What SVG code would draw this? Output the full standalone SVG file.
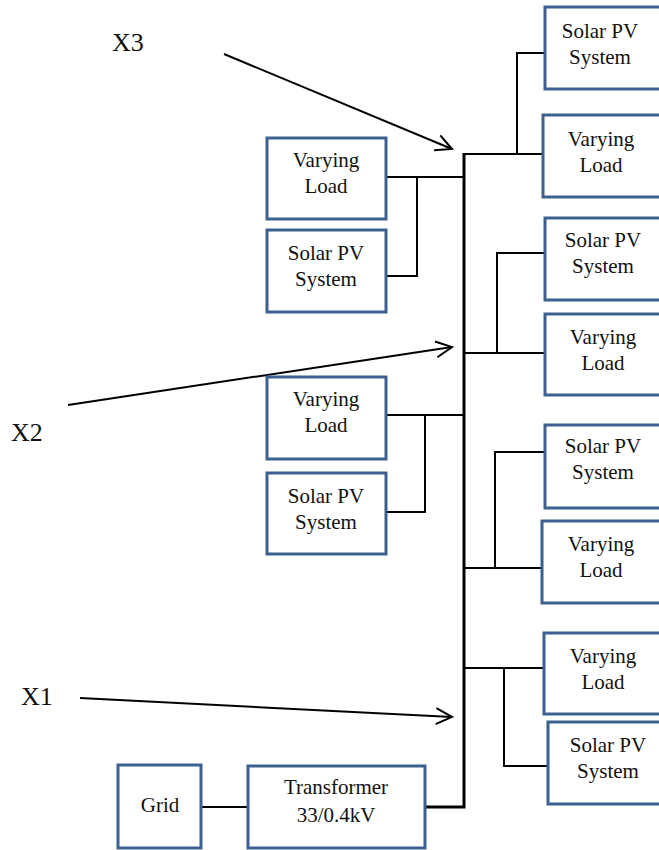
<svg xmlns="http://www.w3.org/2000/svg" width="659" height="850" viewBox="0 0 659 850">
<style>
.box{fill:#fff;stroke:#3C6090;stroke-width:3}
text{font-family:'Times New Roman','Liberation Serif','DejaVu Serif',serif;fill:#111}
.lbl{font-size:21px;text-anchor:middle}
.xl{font-size:26px}
.w{stroke:#000;stroke-width:2;fill:none}
.bus{stroke:#000;stroke-width:3;fill:none}
.arr{stroke:#000;stroke-width:2;fill:none;marker-end:url(#ah)}
</style>
<defs>
<marker id="ah" markerUnits="userSpaceOnUse" markerWidth="24" markerHeight="24" viewBox="-20 -12 24 24" refX="0" refY="0" orient="auto">
<path d="M-16,-8 L0,0 L-16,8" fill="none" stroke="#000" stroke-width="2"/>
</marker>
</defs>
<rect width="659" height="850" fill="#fff"/>
<g id="connectors">
<path class="bus" d="M464,153 V807 H425"/>
<path class="w" d="M464,154 H543 M517,154 V53 H545"/>
<path class="w" d="M464,177 H386 M417,177 V276 H386"/>
<path class="w" d="M464,353 H545 M497,353 V253 H545"/>
<path class="w" d="M464,415 H386 M425,415 V512 H386"/>
<path class="w" d="M464,568 H542 M495,568 V452 H545"/>
<path class="w" d="M464,668 H544 M504,668 V766 H548"/>
<path class="w" d="M201,807 H248"/>
<line class="arr" x1="224" y1="54" x2="452" y2="149"/>
<line class="arr" x1="68" y1="405" x2="452" y2="347"/>
<line class="arr" x1="80" y1="698" x2="452" y2="717"/>
</g>
<g id="labels">
<text class="xl" x="112" y="51">X3</text>
<text class="xl" x="11" y="441">X2</text>
<text class="xl" x="21" y="705">X1</text>
</g>
<g id="nodes">
<g id="vl1"><rect class="box" x="267" y="138" width="119" height="81"/><text class="lbl" x="326" y="167">Varying</text><text class="lbl" x="326" y="193">Load</text></g>
<g id="spv1"><rect class="box" x="267" y="230" width="119" height="82"/><text class="lbl" x="326" y="260">Solar PV</text><text class="lbl" x="326" y="286">System</text></g>
<g id="vl2"><rect class="box" x="267" y="377" width="119" height="82"/><text class="lbl" x="326" y="406">Varying</text><text class="lbl" x="326" y="432">Load</text></g>
<g id="spv2"><rect class="box" x="267" y="473" width="119" height="81"/><text class="lbl" x="326" y="503">Solar PV</text><text class="lbl" x="326" y="529">System</text></g>
<g id="spvr1"><rect class="box" x="545" y="7" width="116" height="82"/><text class="lbl" x="600" y="38">Solar PV</text><text class="lbl" x="600" y="64">System</text></g>
<g id="vlr1"><rect class="box" x="543" y="115" width="118" height="82"/><text class="lbl" x="601" y="146">Varying</text><text class="lbl" x="601" y="172">Load</text></g>
<g id="spvr2"><rect class="box" x="545" y="218" width="116" height="82"/><text class="lbl" x="603" y="247">Solar PV</text><text class="lbl" x="603" y="273">System</text></g>
<g id="vlr2"><rect class="box" x="545" y="314" width="116" height="81"/><text class="lbl" x="603" y="344">Varying</text><text class="lbl" x="603" y="370">Load</text></g>
<g id="spvr3"><rect class="box" x="545" y="425" width="116" height="83"/><text class="lbl" x="603" y="453">Solar PV</text><text class="lbl" x="603" y="479">System</text></g>
<g id="vlr3"><rect class="box" x="542" y="521" width="119" height="82"/><text class="lbl" x="601" y="551">Varying</text><text class="lbl" x="601" y="577">Load</text></g>
<g id="vlr4"><rect class="box" x="544" y="633" width="117" height="81"/><text class="lbl" x="603" y="663">Varying</text><text class="lbl" x="603" y="689">Load</text></g>
<g id="spvr4"><rect class="box" x="548" y="722" width="113" height="82"/><text class="lbl" x="608" y="752">Solar PV</text><text class="lbl" x="608" y="778">System</text></g>
<g id="grid"><rect class="box" x="118" y="765" width="83" height="83"/><text class="lbl" x="160" y="812">Grid</text></g>
<g id="transformer"><rect class="box" x="248" y="766" width="177" height="82"/><text class="lbl" x="336" y="794">Transformer</text><text class="lbl" x="336" y="822">33/0.4kV</text></g>
</g>
</svg>
